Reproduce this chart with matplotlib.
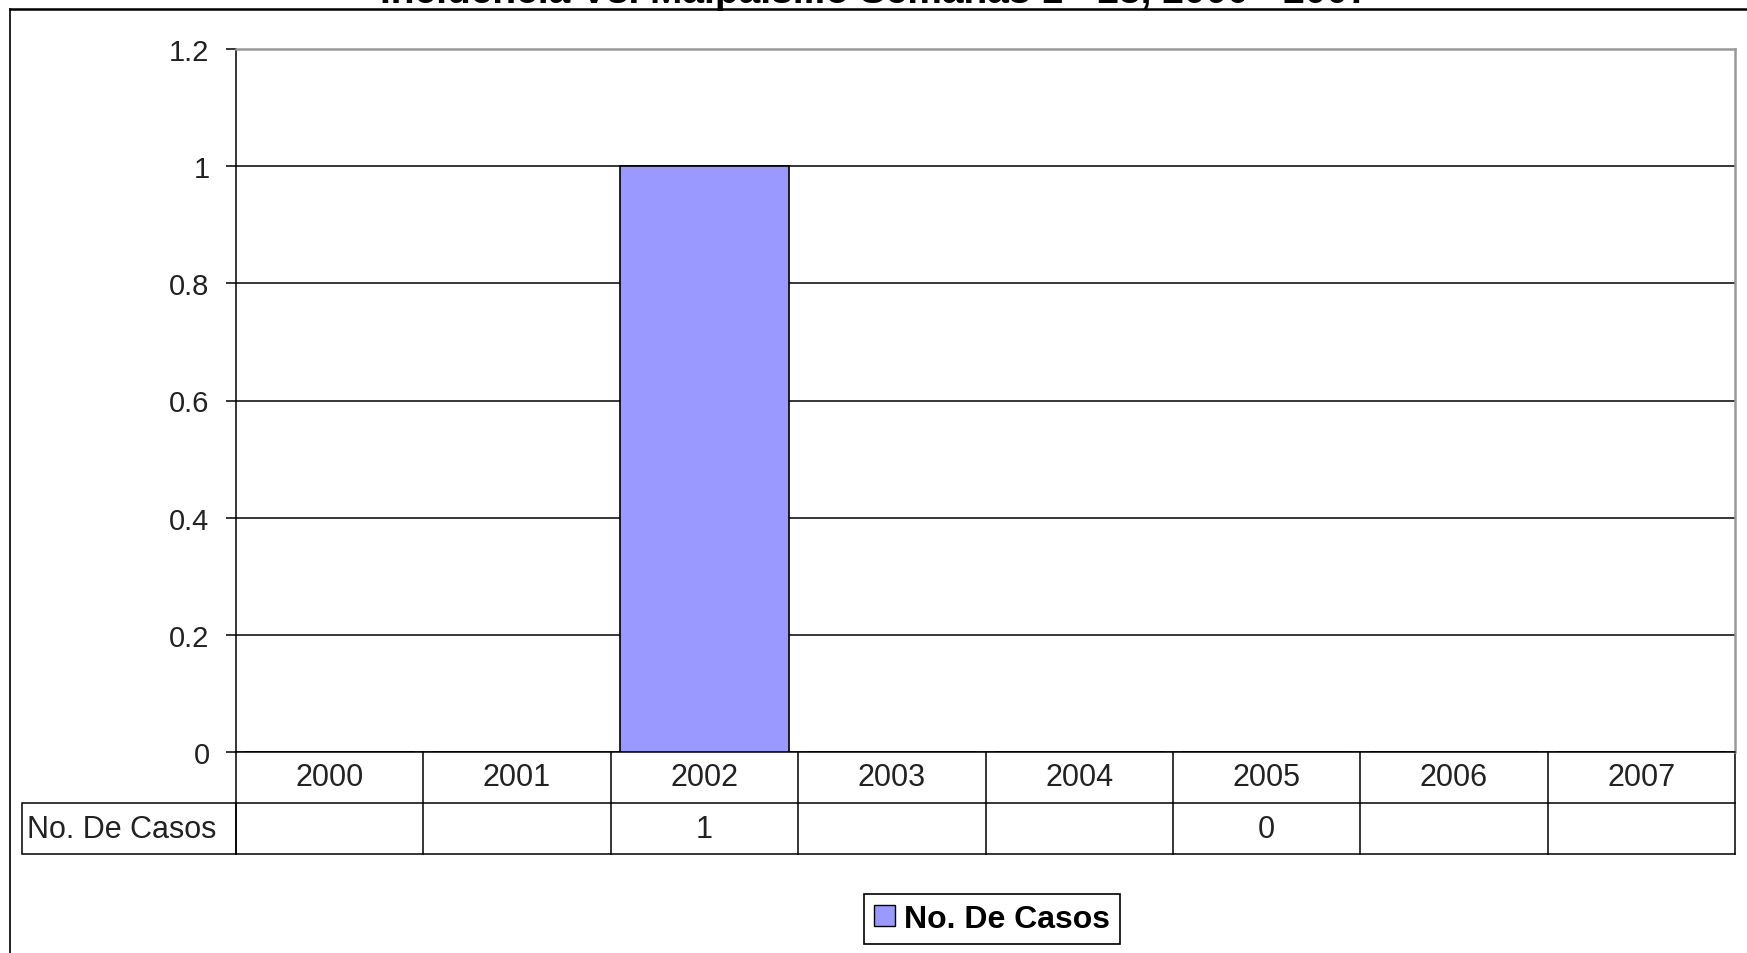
import matplotlib
matplotlib.use("Agg")
import matplotlib.pyplot as plt
import matplotlib.transforms as mtransforms
from matplotlib.patches import Patch, Rectangle
from matplotlib.lines import Line2D

plt.rcParams["font.family"] = ["Liberation Sans", "DejaVu Sans"]

# Data
years = ["2000", "2001", "2002", "2003", "2004", "2005", "2006", "2007"]
casos = [None, None, 1, None, None, 0, None, None]
serie = "No. De Casos"
title = "Incidencia Vs. Malpaisillo Semanas 1 - 23, 2000 - 2007"

W, H = 1747, 954
fig = plt.figure(figsize=(W / 100, H / 100), dpi=100)

# plot area in pixels
left, right, top, bottom = 236, 1735, 50, 753
ax = fig.add_axes([left / W, 1 - bottom / H, (right - left) / W, (bottom - top) / H])

x = list(range(len(years)))
heights = [v if v is not None else 0 for v in casos]
ax.bar(x, heights, width=0.9, color="#9999FF", edgecolor="black", linewidth=1.2, zorder=3)

ax.set_xlim(-0.5, len(years) - 0.5)
ax.set_ylim(0, 1.2)
ax.set_yticks([0, 0.2, 0.4, 0.6, 0.8, 1, 1.2])
ax.set_yticklabels(["0", "0.2", "0.4", "0.6", "0.8", "1", "1.2"])
ax.yaxis.grid(True, color="black", linewidth=1.1)
ax.set_axisbelow(True)
ax.set_xticks([])
ax.tick_params(axis="y", length=7, width=1.1, pad=12, labelsize=21, labelcolor="#222222")
for s in ["top", "right"]:
    ax.spines[s].set_color("#999999")
    ax.spines[s].set_linewidth(1.8)
for s in ["left", "bottom"]:
    ax.spines[s].set_color("black")
    ax.spines[s].set_linewidth(1.1)

# data table below the axes
row_h = 51 / (bottom - top)
trans = mtransforms.blended_transform_factory(ax.transData, ax.transAxes)
lw = 1.1
for y in [-row_h, -2 * row_h]:
    ax.add_line(Line2D([-0.5, len(years) - 0.5], [y, y], transform=trans,
                       color="black", lw=lw, clip_on=False))
for i in range(len(years) + 1):
    ax.add_line(Line2D([i - 0.5, i - 0.5], [0, -2 * row_h], transform=trans,
                       color="black", lw=lw, clip_on=False))
for i, yr in enumerate(years):
    ax.text(i, -row_h / 2, yr, transform=trans, ha="center", va="center",
            fontsize=22, color="#222222")
    if casos[i] is not None:
        ax.text(i, -1.5 * row_h, f"{casos[i]:g}", transform=trans, ha="center",
                va="center", fontsize=22, color="#222222")

# row label cell
lab_left = 22
fig.patches.append(Rectangle((lab_left / W, 1 - 855 / H), (left - lab_left) / W, 51 / H,
                             transform=fig.transFigure, fill=False,
                             edgecolor="black", linewidth=lw))
fig.text((lab_left + 5) / W, 1 - 830 / H, serie, ha="left", va="center",
         fontsize=22, color="#222222")

# outer chart border (partially cropped)
fig.add_artist(Line2D([10 / W, 1], [1 - 10 / H, 1 - 10 / H], color="black", lw=1.8,
                      transform=fig.transFigure))
fig.add_artist(Line2D([10 / W, 10 / W], [0, 1 - 10 / H], color="black", lw=1.2,
                      transform=fig.transFigure))

# title cut by the top edge, as in the source image
fig.text(875 / W, 1 - 3 / H, title, ha="center", va="baseline", fontsize=28,
         fontweight="bold")

# legend
handle = Patch(facecolor="#9999FF", edgecolor="black", linewidth=1.0)
leg = fig.legend([handle], [serie], loc="center", bbox_to_anchor=(992 / W, 1 - 920 / H),
                 prop={"size": 23, "weight": "bold"}, fancybox=False,
                 edgecolor="black", framealpha=1, handlelength=0.65,
                 handleheight=0.65, handletextpad=0.3, borderpad=0.3)
leg.get_frame().set_linewidth(1.2)

fig.savefig("out.png", dpi=100)
